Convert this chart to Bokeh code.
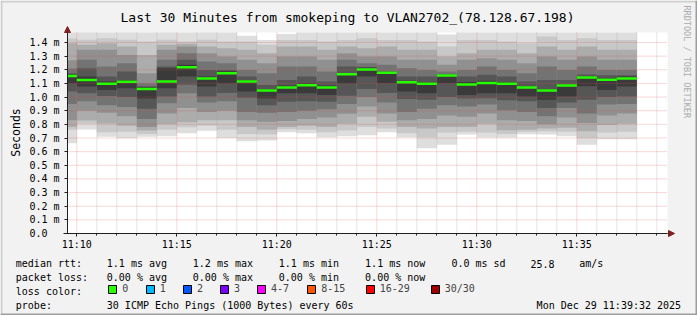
import math
import pandas as pd
from bokeh.plotting import figure
from bokeh.models import (ColumnDataSource, Range1d, FixedTicker, CustomJSTickFormatter,
                          DatetimeTickFormatter, Label, Legend, LegendItem, Arrow, NormalHead,
                          BoxAnnotation, Span)
from bokeh.embed import file_html
from bokeh.resources import INLINE

FONT = "DejaVu Sans Mono"
DAY = "2025-12-29 "
graph_end = "11:39:32"
graph_minutes = 30

# end time of every 60 s step shown in the graph
step_end = ["11:10", "11:11", "11:12", "11:13", "11:14", "11:15", "11:16", "11:17",
            "11:18", "11:19", "11:20", "11:21", "11:22", "11:23", "11:24", "11:25",
            "11:26", "11:27", "11:28", "11:29", "11:30", "11:31", "11:32", "11:33",
            "11:34", "11:35", "11:36", "11:37", "11:38"]

# median rtt per step (ms)
median_ms = [1.154, 1.125, 1.097, 1.112, 1.060, 1.115, 1.218, 1.136, 1.174, 1.115,
             1.049, 1.071, 1.086, 1.071, 1.167, 1.203, 1.178, 1.108, 1.098, 1.158,
             1.092, 1.104, 1.098, 1.070, 1.049, 1.084, 1.143, 1.127, 1.136]

# smoke: upper edges of the 7 grey layers per step (outer -> inner), ms
smoke_hi = [
    [1.48, 1.43, 1.395, 1.27, 1.21, 1.175, 1.165],
    [1.48, 1.42, 1.383, 1.346, 1.273, 1.212, 1.15],
    [1.48, 1.432, 1.395, 1.346, 1.224, 1.15, 1.114],
    [1.48, 1.42, 1.37, 1.309, 1.248, 1.187, 1.126],
    [1.48, 1.407, 1.309, 1.175, 1.101, 1.08, 1.072],
    [1.48, 1.42, 1.383, 1.346, 1.273, 1.224, 1.212],
    [1.48, 1.407, 1.39, 1.37, 1.322, 1.273, 1.236],
    [1.48, 1.42, 1.37, 1.322, 1.261, 1.199, 1.15],
    [1.48, 1.407, 1.358, 1.297, 1.248, 1.199, 1.19],
    [1.449, 1.407, 1.346, 1.273, 1.199, 1.15, 1.126],
    [1.419, 1.383, 1.322, 1.248, 1.175, 1.089, 1.06],
    [1.463, 1.419, 1.37, 1.297, 1.224, 1.126, 1.085],
    [1.48, 1.419, 1.37, 1.297, 1.224, 1.15, 1.101],
    [1.48, 1.407, 1.346, 1.273, 1.187, 1.114, 1.085],
    [1.48, 1.419, 1.37, 1.322, 1.273, 1.224, 1.175],
    [1.48, 1.432, 1.358, 1.297, 1.248, 1.22, 1.215],
    [1.48, 1.419, 1.37, 1.297, 1.236, 1.19, 1.186],
    [1.48, 1.419, 1.346, 1.273, 1.212, 1.15, 1.12],
    [1.48, 1.407, 1.346, 1.273, 1.199, 1.15, 1.11],
    [1.458, 1.37, 1.297, 1.236, 1.187, 1.17, 1.165],
    [1.48, 1.419, 1.322, 1.273, 1.199, 1.15, 1.11],
    [1.48, 1.419, 1.346, 1.285, 1.224, 1.163, 1.12],
    [1.48, 1.407, 1.346, 1.273, 1.199, 1.15, 1.11],
    [1.48, 1.395, 1.322, 1.248, 1.175, 1.114, 1.08],
    [1.48, 1.444, 1.37, 1.297, 1.224, 1.126, 1.06],
    [1.48, 1.419, 1.346, 1.273, 1.199, 1.126, 1.095],
    [1.48, 1.432, 1.37, 1.297, 1.224, 1.165, 1.155],
    [1.48, 1.419, 1.346, 1.273, 1.199, 1.16, 1.14],
    [1.48, 1.419, 1.346, 1.273, 1.199, 1.16, 1.15],
]

# smoke: lower edges of the 7 grey layers per step (outer -> inner), ms
smoke_lo = [
    [0.661, 0.76, 0.78, 0.83, 0.95, 1.04, 1.10],
    [0.762, 0.804, 0.828, 0.90, 0.97, 1.028, 1.077],
    [0.710, 0.742, 0.806, 0.885, 0.94, 1.008, 1.052],
    [0.698, 0.745, 0.79, 0.86, 0.928, 1.0, 1.065],
    [0.710, 0.73, 0.755, 0.78, 0.84, 0.915, 0.99],
    [0.713, 0.76, 0.80, 0.88, 0.955, 1.004, 1.065],
    [0.734, 0.779, 0.816, 0.92, 1.028, 1.09, 1.15],
    [0.754, 0.79, 0.83, 0.89, 0.96, 1.004, 1.077],
    [0.700, 0.76, 0.83, 0.90, 0.97, 1.03, 1.10],
    [0.676, 0.73, 0.78, 0.83, 0.89, 0.995, 1.04],
    [0.681, 0.725, 0.76, 0.82, 0.885, 0.94, 0.99],
    [0.742, 0.765, 0.78, 0.825, 0.89, 0.965, 1.028],
    [0.734, 0.76, 0.79, 0.84, 0.90, 0.97, 1.028],
    [0.705, 0.742, 0.78, 0.85, 0.91, 0.965, 1.016],
    [0.712, 0.755, 0.804, 0.877, 0.95, 1.01, 1.10],
    [0.720, 0.78, 0.855, 0.93, 1.0, 1.06, 1.15],
    [0.742, 0.77, 0.82, 0.88, 0.96, 1.03, 1.101],
    [0.705, 0.735, 0.78, 0.83, 0.89, 0.985, 1.04],
    [0.624, 0.706, 0.77, 0.84, 0.915, 0.98, 1.028],
    [0.651, 0.74, 0.78, 0.865, 0.94, 1.0, 1.101],
    [0.725, 0.745, 0.78, 0.855, 0.93, 0.99, 1.016],
    [0.703, 0.74, 0.805, 0.88, 0.945, 0.991, 1.028],
    [0.703, 0.73, 0.757, 0.83, 0.903, 0.977, 1.028],
    [0.727, 0.745, 0.76, 0.825, 0.89, 0.97, 1.004],
    [0.725, 0.75, 0.77, 0.80, 0.86, 0.92, 0.98],
    [0.713, 0.745, 0.775, 0.85, 0.92, 0.96, 1.004],
    [0.651, 0.70, 0.75, 0.81, 0.88, 0.98, 1.08],
    [0.690, 0.74, 0.795, 0.865, 0.945, 1.0, 1.052],
    [0.690, 0.745, 0.805, 0.88, 0.95, 1.004, 1.077],
]

smoke_gray = ["#dedede", "#c8c8c8", "#acacac", "#909090", "#737373", "#565656", "#3a3a3a"]

x_tick_labels = ["11:10", "11:15", "11:20", "11:25", "11:30", "11:35"]
y_ticks = [0.0, 0.1, 0.2, 0.3, 0.4, 0.5, 0.6, 0.7, 0.8, 0.9, 1.0, 1.1, 1.2, 1.3, 1.4]
y_top = 1.4733

loss_labels = ["0", "1", "2", "3", "4-7", "8-15", "16-29", "30/30"]
loss_colors = ["#26ff00", "#00b8ff", "#0059ff", "#7e00ff", "#ff00ff", "#ff5500", "#ff0000", "#a00000"]

legend_rows = [
    ("median rtt:", ["1.1 ms avg", "1.2 ms max", "1.1 ms min", "1.1 ms now", "0.0 ms sd", "25.8", "am/s"]),
    ("packet loss:", ["0.00 % avg", "0.00 % max", "0.00 % min", "0.00 % now"]),
]
probe_text = "30 ICMP Echo Pings (1000 Bytes) every 60s"
stamp_text = "Mon Dec 29 11:39:32 2025"
title_text = "Last 30 Minutes from smokeping to VLAN2702_(78.128.67.198)"

# ---------------- layout (pixels, from top-left) ----------------
W, H = 697, 315
FL, FR, FT, FB = 67, 667, 32, 233
row_base = [263, 277, 291, 305]
col_x = [15.3, 106.3, 192.3, 278.3, 364.6, 450.9, 529.9, 578.7]
box_x = [108.3, 145.7, 183.0, 220.0, 257.0, 307.3, 365.7, 430.7]


def ms(hhmm):
    return pd.Timestamp(DAY + hhmm).value / 1e6


t_end = ms(graph_end)
t_start = t_end - graph_minutes * 60000
ms_per_px = (t_end - t_start) / (FR - FL)
v_per_px = y_top / (FB - FT)

right = [ms(t) for t in step_end]
left = [max(r - 60000, t_start) for r in right]

p = figure(width=W, height=H, x_axis_type="datetime",
           x_range=Range1d(t_start - FL * ms_per_px, t_end + (W - FR) * ms_per_px),
           y_range=Range1d(-(H - FB) * v_per_px, y_top + FT * v_per_px),
           output_backend="svg", toolbar_location=None, title=None,
           min_border_left=0, min_border_right=0, min_border_top=0, min_border_bottom=0)
p.background_fill_color = "#f2f2f2"
p.border_fill_color = "#f2f2f2"
p.outline_line_color = None
p.xgrid.visible = False
p.ygrid.visible = False

# 3-D frame shading of the image
for loc, dim, col in [(H - 1, "width", "#cfcfcf"), (1, "height", "#cfcfcf"),
                      (1, "width", "#9e9e9e"), (W - 1, "height", "#9e9e9e")]:
    p.add_layout(Span(location=loc, location_units="screen", dimension=dim,
                      line_color=col, line_width=2))

# white canvas of the graph
p.add_layout(BoxAnnotation(left=t_start, right=t_end, bottom=0, top=y_top,
                           fill_color="white", fill_alpha=1, line_color=None,
                           level="underlay"))

# smoke
sl, sr, sb, st, sc = [], [], [], [], []
for k in range(len(smoke_gray)):
    for i in range(len(step_end)):
        sl.append(left[i]); sr.append(right[i])
        sb.append(smoke_lo[i][k]); st.append(min(smoke_hi[i][k], y_top)); sc.append(smoke_gray[k])
p.quad(source=ColumnDataSource(dict(left=sl, right=sr, bottom=sb, top=st, color=sc)),
       left="left", right="right", bottom="bottom", top="top",
       fill_color="color", line_color=None)

# ticks
major_ms = [ms(t) for t in x_tick_labels]
all_min = [ms(step_end[0]) + 60000 * i for i in range(30)]
minor_ms = [m for m in all_min if m not in major_ms and m <= t_end]

# grid (drawn over the smoke, like rrdtool)
p.segment(x0=minor_ms, x1=minor_ms, y0=[0] * len(minor_ms), y1=[y_top] * len(minor_ms),
          line_color="#8f8f8f", line_alpha=0.45, line_width=1, line_dash="1 1")
p.segment(x0=major_ms, x1=major_ms, y0=[0] * len(major_ms), y1=[y_top] * len(major_ms),
          line_color="#de4f4f", line_alpha=0.45, line_width=1, line_dash="1 1")
gy = y_ticks[1:]
p.segment(x0=[t_start] * len(gy), x1=[t_end] * len(gy), y0=gy, y1=gy,
          line_color="#de4f4f", line_alpha=0.45, line_width=1, line_dash="1 1")

# median
p.segment(x0=left, x1=right, y0=median_ms, y1=median_ms,
          line_color="#26ff00", line_width=2.5)

# axes drawn at the graph's origin
xa, ya = p.xaxis[0], p.yaxis[0]
xa.fixed_location = 0
ya.fixed_location = t_start
xa.bounds = (t_start - 4 * ms_per_px, t_end)
ya.bounds = (0, y_top)
xa.ticker = FixedTicker(ticks=major_ms, minor_ticks=minor_ms)
xa.formatter = DatetimeTickFormatter(
    milliseconds="%H:%M", seconds="%H:%M", minsec="%H:%M", minutes="%H:%M",
    hourmin="%H:%M", hours="%H:%M", days="%H:%M")
ya.ticker = FixedTicker(ticks=y_ticks, minor_ticks=[])
ya.formatter = CustomJSTickFormatter(
    code="return tick < 0.05 ? '0.0\\u00a0\\u00a0' : tick.toFixed(1) + ' m';")
for ax in (xa, ya):
    ax.axis_line_color = "#1f1f1f"
    ax.major_tick_line_color = "#1f1f1f"
    ax.minor_tick_line_color = "#1f1f1f"
    ax.major_tick_in = 0
    ax.minor_tick_in = 0
    ax.major_label_text_font = FONT
    ax.major_label_text_font_size = "10px"
    ax.major_label_text_color = "black"
xa.major_tick_out = 3
xa.minor_tick_out = 2
xa.major_label_standoff = 2
ya.major_tick_out = 3
ya.minor_tick_out = 0
ya.major_label_standoff = 5

# axis arrows
head = dict(fill_color="#801f1f", line_color="#801f1f")
p.add_layout(Arrow(x_start=t_end, y_start=0, x_end=t_end + 7 * ms_per_px, y_end=0,
                   line_color="#1f1f1f", line_width=1, end=NormalHead(size=6, **head)))
p.add_layout(Arrow(x_start=t_start, y_start=y_top, x_end=t_start, y_end=y_top + 6 * v_per_px,
                   line_color="#1f1f1f", line_width=1, end=NormalHead(size=6, **head)))


def put(txt, x, y, align="left", size="10px", color="black", angle=0.0, baseline="alphabetic"):
    p.add_layout(Label(x=x, y=H - y, x_units="screen", y_units="screen", text=txt,
                       text_font=FONT, text_font_size=size, text_color=color,
                       text_align=align, text_baseline=baseline, angle=angle))


put(title_text, 347, 17.3, align="center", size="13px")
put("Seconds", 15.5, 132, align="center", size="11.5px", angle=math.pi / 2)
put("RRDTOOL / TOBI OETIKER", 686.5, 5, align="left", size="8.5px", color="#ababab",
    angle=-math.pi / 2, baseline="middle")

for r, (head_txt, items) in enumerate(legend_rows):
    put(head_txt, col_x[0], row_base[r])
    for j, it in enumerate(items):
        put(it, col_x[j + 1], row_base[r])
put("loss color:", col_x[0], row_base[2])
put("probe:", col_x[0], row_base[3])
put(probe_text, col_x[1], row_base[3])
put(stamp_text, 680.6, row_base[3], align="right")

# loss colour swatches: one legend per swatch; the backing quad lies outside the view
for lab, colr, bx in zip(loss_labels, loss_colors, box_x):
    rr = p.quad(left=[t_start], right=[t_start + ms_per_px], top=[-50], bottom=[-51],
                fill_color=colr, line_color="black", line_width=1)
    leg = Legend(items=[LegendItem(label=lab, renderers=[rr])],
                 location=(bx - 1, H - 282 - 12), orientation="horizontal",
                 glyph_width=10, glyph_height=10, label_standoff=5,
                 padding=0, margin=0, spacing=0, label_height=10, label_width=0,
                 border_line_alpha=0, background_fill_alpha=0,
                 label_text_font=FONT, label_text_font_size="10px")
    p.add_layout(leg, "center")

open("out.html", "w").write(file_html(p, INLINE))
